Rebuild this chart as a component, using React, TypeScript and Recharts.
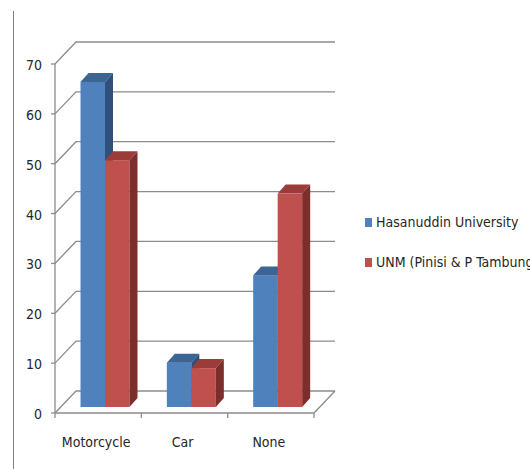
import { Bar, BarChart, CartesianGrid, Legend, XAxis, YAxis } from "recharts";

const categories = ["Motorcycle", "Car", "None"];
const hasanuddin = [65.2, 8.9, 26.4];
const unm = [49.5, 7.8, 42.8];
const yTicks = [0, 10, 20, 30, 40, 50, 60, 70];

const data = categories.map((name, i) => ({ name, hasanuddin: hasanuddin[i], unm: unm[i] }));

// perspective offsets: back wall -> front edge, back wall -> bar front plane, bar depth
const FRONT_DX = -21;
const FRONT_DY = 22;
const BAR_DX = -14.5;
const BAR_DY = 16;
const DEPTH_X = 8;
const DEPTH_Y = 9;
const GRID = "#8c8c8c";
const FONT = "'Liberation Sans Narrow', 'DejaVu Sans Condensed', 'Liberation Sans', sans-serif";

const shades: Record<string, { front: string; top: string; side: string }> = {
  "#4f81bd": { front: "#4f81bd", top: "#3d6594", side: "#2f507a" },
  "#c0504d": { front: "#c0504d", top: "#9b3c3a", side: "#7c2e2c" }
};

function Bar3D(props: any) {
  const { x, y, width, height, fill } = props;
  if (width == null || height == null) return null;
  const c = shades[fill] || shades["#4f81bd"];
  const fx = x + BAR_DX;
  const fy = y + BAR_DY;
  return (
    <g>
      <rect x={fx} y={fy} width={width} height={height} fill={c.front} />
      <polygon
        points={`${fx},${fy} ${fx + DEPTH_X},${fy - DEPTH_Y} ${fx + width + DEPTH_X},${fy - DEPTH_Y} ${fx + width},${fy}`}
        fill={c.top}
      />
      <polygon
        points={`${fx + width},${fy} ${fx + width + DEPTH_X},${fy - DEPTH_Y} ${fx + width + DEPTH_X},${fy + height - DEPTH_Y} ${fx + width},${fy + height}`}
        fill={c.side}
      />
    </g>
  );
}

function GridLine(props: any) {
  const { x1, y1, x2, x, y, width, height } = props;
  const isFloor = Math.abs(y1 - (y + height)) < 0.5;
  const isTop = Math.abs(y1 - y) < 0.5;
  const lx = x1 + FRONT_DX;
  const ly = y1 + FRONT_DY;
  const band = width / categories.length;
  return (
    <g>
      <polyline points={`${lx},${ly} ${x1},${y1} ${x2},${y1}`} fill="none" stroke={GRID} strokeWidth={1.3} />
      <line x1={lx - 4} y1={ly} x2={lx} y2={ly} stroke={GRID} strokeWidth={1.3} />
      {isTop && (
        <line x1={lx} y1={ly} x2={lx} y2={y + height + FRONT_DY} stroke={GRID} strokeWidth={1.3} />
      )}
      {isFloor && (
        <g>
          <polyline
            points={`${lx},${ly} ${x2 + FRONT_DX},${ly} ${x2},${y1}`}
            fill="none"
            stroke={GRID}
            strokeWidth={1.3}
          />
          {categories.concat([""]).map((_, k) => (
            <line
              key={k}
              x1={lx + k * band}
              y1={ly}
              x2={lx + k * band}
              y2={ly + 5}
              stroke={GRID}
              strokeWidth={1.3}
            />
          ))}
        </g>
      )}
    </g>
  );
}

function YTick(props: any) {
  const { x, y, payload } = props;
  return (
    <text x={x + FRONT_DX - 13} y={y + FRONT_DY + 6} textAnchor="end" fontSize={14} fill="#262626" fontFamily={FONT}>
      {payload.value}
    </text>
  );
}

function XTick(props: any) {
  const { x, y, payload } = props;
  return (
    <text x={x + FRONT_DX - 2} y={y + FRONT_DY + 26} textAnchor="middle" fontSize={14} fill="#262626" fontFamily={FONT}>
      {payload.value}
    </text>
  );
}

function LegendBox(props: any) {
  const items = props.payload || [];
  return (
    <div style={{ fontFamily: FONT, fontSize: 14, color: "#262626", whiteSpace: "nowrap" }}>
      {items.map((it: any, i: number) => (
        <div key={i} style={{ display: "flex", alignItems: "center", height: 40 }}>
          <span style={{ display: "inline-block", width: 7, height: 9, background: it.color, marginRight: 4 }} />
          <span>{it.value}</span>
        </div>
      ))}
    </div>
  );
}

export default function App() {
  return (
    <div style={{ position: "absolute", left: 0, top: 0, width: 530, height: 469, overflow: "hidden", background: "#fff" }}>
      <div style={{ position: "absolute", left: 13, top: 11, width: 0, height: 458, borderLeft: "1.5px solid #7f7f7f" }} />
      <BarChart
        width={530}
        height={469}
        data={data}
        margin={{ top: 42, right: 195, bottom: 48, left: 36 }}
        barGap={0}
        barSize={24.5}
      >
        <CartesianGrid vertical={false} horizontal={GridLine as any} />
        <XAxis dataKey="name" axisLine={false} tickLine={false} height={30} tick={<XTick />} interval={0} />
        <YAxis
          width={40}
          domain={[0, 70]}
          ticks={yTicks}
          axisLine={false}
          tickLine={false}
          tickSize={0}
          tickMargin={0}
          tick={<YTick />}
        />
        <Legend
          layout="vertical"
          align="center"
          verticalAlign="middle"
          content={<LegendBox />}
          wrapperStyle={{ left: 365, top: 202, width: 200 }}
        />
        <Bar dataKey="hasanuddin" name="Hasanuddin University" fill="#4f81bd" shape={<Bar3D />} isAnimationActive={false} />
        <Bar dataKey="unm" name="UNM (Pinisi & P Tambung" fill="#c0504d" shape={<Bar3D />} isAnimationActive={false} />
      </BarChart>
    </div>
  );
}
